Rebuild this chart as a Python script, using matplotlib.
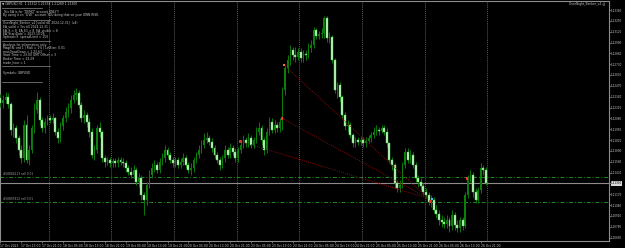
import numpy as np
import matplotlib
matplotlib.use('Agg')
import matplotlib.pyplot as plt

# GBPUSD H1, 17 Oct 2023 05:00 .. 26 Oct 2023 23:00
opens = [
    1.2232, 1.2226, 1.2230, 1.2234, 1.2225, 1.2194, 1.2196, 1.2184, 1.2170, 1.2160,
    1.2200, 1.2158, 1.2170, 1.2196, 1.2218, 1.2230, 1.2206, 1.2196, 1.2204, 1.2208,
    1.2206, 1.2208, 1.2192, 1.2184, 1.2199, 1.2208, 1.2216, 1.2220, 1.2230, 1.2236,
    1.2238, 1.2224, 1.2208, 1.2212, 1.2204, 1.2192, 1.2164, 1.2170, 1.2196, 1.2192,
    1.2160, 1.2156, 1.2158, 1.2154, 1.2157, 1.2154, 1.2158, 1.2156, 1.2154, 1.2148,
    1.2144, 1.2140, 1.2146, 1.2132, 1.2136, 1.2116, 1.2110, 1.2128, 1.2140, 1.2148,
    1.2152, 1.2146, 1.2156, 1.2160, 1.2170, 1.2164, 1.2158, 1.2154, 1.2158, 1.2152,
    1.2156, 1.2160, 1.2152, 1.2146, 1.2148, 1.2158, 1.2164, 1.2170, 1.2176, 1.2182,
    1.2184, 1.2180, 1.2172, 1.2164, 1.2158, 1.2152, 1.2160, 1.2170, 1.2164, 1.2172,
    1.2168, 1.2160, 1.2170, 1.2176, 1.2182, 1.2178, 1.2184, 1.2176, 1.2182, 1.2192,
    1.2196, 1.2182, 1.2170, 1.2192, 1.2204, 1.2194, 1.2200, 1.2196, 1.2204, 1.2242,
    1.2268, 1.2278, 1.2290, 1.2284, 1.2282, 1.2288, 1.2280, 1.2285, 1.2284, 1.2292,
    1.2296, 1.2314, 1.2307, 1.2309, 1.2310, 1.2328, 1.2304, 1.2306, 1.2278, 1.2242,
    1.2248, 1.2234, 1.2212, 1.2199, 1.2200, 1.2188, 1.2178, 1.2182, 1.2180, 1.2182,
    1.2178, 1.2181, 1.2184, 1.2188, 1.2192, 1.2194, 1.2193, 1.2196, 1.2192, 1.2178,
    1.2158, 1.2152, 1.2130, 1.2124, 1.2128, 1.2152, 1.2168, 1.2158, 1.2164, 1.2152,
    1.2136, 1.2132, 1.2127, 1.2120, 1.2116, 1.2108, 1.2110, 1.2098, 1.2093, 1.2086,
    1.2084, 1.2081, 1.2086, 1.2079, 1.2092, 1.2080, 1.2076, 1.2086, 1.2079, 1.2116,
    1.2136, 1.2140, 1.2120, 1.2110, 1.2122, 1.2148, 1.2146,
]
highs = [
    1.2237, 1.2236, 1.2240, 1.2238, 1.2228, 1.2202, 1.2200, 1.2188, 1.2176, 1.2206,
    1.2212, 1.2176, 1.2200, 1.2226, 1.2240, 1.2234, 1.2210, 1.2208, 1.2212, 1.2212,
    1.2214, 1.2210, 1.2196, 1.2204, 1.2212, 1.2222, 1.2226, 1.2236, 1.2242, 1.2244,
    1.2242, 1.2228, 1.2218, 1.2216, 1.2208, 1.2196, 1.2176, 1.2200, 1.2204, 1.2194,
    1.2164, 1.2162, 1.2162, 1.2160, 1.2160, 1.2162, 1.2162, 1.2160, 1.2158, 1.2152,
    1.2150, 1.2152, 1.2150, 1.2142, 1.2140, 1.2120, 1.2132, 1.2146, 1.2154, 1.2158,
    1.2156, 1.2160, 1.2166, 1.2176, 1.2174, 1.2168, 1.2162, 1.2162, 1.2162, 1.2160,
    1.2166, 1.2164, 1.2156, 1.2154, 1.2162, 1.2168, 1.2176, 1.2182, 1.2190, 1.2192,
    1.2188, 1.2184, 1.2176, 1.2168, 1.2162, 1.2164, 1.2176, 1.2174, 1.2178, 1.2176,
    1.2172, 1.2174, 1.2182, 1.2188, 1.2186, 1.2190, 1.2188, 1.2186, 1.2198, 1.2204,
    1.2200, 1.2186, 1.2196, 1.2210, 1.2208, 1.2206, 1.2204, 1.2208, 1.2246, 1.2272,
    1.2284, 1.2296, 1.2294, 1.2294, 1.2292, 1.2292, 1.2290, 1.2290, 1.2298, 1.2302,
    1.2318, 1.2316, 1.2313, 1.2316, 1.2331, 1.2331, 1.2312, 1.2308, 1.2280, 1.2252,
    1.2252, 1.2236, 1.2216, 1.2206, 1.2204, 1.2190, 1.2186, 1.2186, 1.2186, 1.2186,
    1.2186, 1.2188, 1.2192, 1.2198, 1.2200, 1.2198, 1.2200, 1.2200, 1.2196, 1.2180,
    1.2162, 1.2154, 1.2134, 1.2134, 1.2156, 1.2172, 1.2172, 1.2170, 1.2168, 1.2156,
    1.2140, 1.2136, 1.2130, 1.2124, 1.2120, 1.2116, 1.2114, 1.2104, 1.2098, 1.2092,
    1.2090, 1.2092, 1.2090, 1.2098, 1.2096, 1.2086, 1.2090, 1.2090, 1.2120, 1.2140,
    1.2146, 1.2144, 1.2124, 1.2126, 1.2154, 1.2152, 1.2150,
]
lows = [
    1.2222, 1.2220, 1.2226, 1.2220, 1.2188, 1.2186, 1.2178, 1.2164, 1.2154, 1.2156,
    1.2154, 1.2152, 1.2166, 1.2190, 1.2214, 1.2200, 1.2192, 1.2190, 1.2200, 1.2202,
    1.2202, 1.2188, 1.2178, 1.2180, 1.2194, 1.2204, 1.2210, 1.2214, 1.2226, 1.2230,
    1.2220, 1.2204, 1.2202, 1.2198, 1.2186, 1.2160, 1.2158, 1.2166, 1.2186, 1.2156,
    1.2150, 1.2152, 1.2150, 1.2150, 1.2150, 1.2150, 1.2152, 1.2150, 1.2144, 1.2140,
    1.2136, 1.2136, 1.2128, 1.2126, 1.2110, 1.2092, 1.2104, 1.2124, 1.2136, 1.2144,
    1.2142, 1.2142, 1.2152, 1.2156, 1.2160, 1.2154, 1.2150, 1.2150, 1.2148, 1.2148,
    1.2152, 1.2148, 1.2142, 1.2140, 1.2144, 1.2154, 1.2160, 1.2166, 1.2172, 1.2178,
    1.2176, 1.2168, 1.2160, 1.2154, 1.2146, 1.2148, 1.2156, 1.2160, 1.2160, 1.2164,
    1.2156, 1.2156, 1.2166, 1.2172, 1.2174, 1.2174, 1.2172, 1.2172, 1.2178, 1.2188,
    1.2176, 1.2164, 1.2166, 1.2188, 1.2190, 1.2190, 1.2192, 1.2192, 1.2194, 1.2236,
    1.2262, 1.2272, 1.2278, 1.2276, 1.2278, 1.2276, 1.2276, 1.2278, 1.2280, 1.2288,
    1.2292, 1.2303, 1.2303, 1.2304, 1.2304, 1.2300, 1.2298, 1.2274, 1.2238, 1.2232,
    1.2228, 1.2208, 1.2194, 1.2192, 1.2184, 1.2174, 1.2174, 1.2176, 1.2176, 1.2174,
    1.2174, 1.2178, 1.2180, 1.2184, 1.2188, 1.2188, 1.2190, 1.2188, 1.2174, 1.2154,
    1.2146, 1.2124, 1.2120, 1.2120, 1.2124, 1.2148, 1.2154, 1.2154, 1.2148, 1.2132,
    1.2126, 1.2122, 1.2116, 1.2112, 1.2104, 1.2102, 1.2094, 1.2088, 1.2080, 1.2078,
    1.2076, 1.2076, 1.2072, 1.2074, 1.2074, 1.2072, 1.2072, 1.2074, 1.2076, 1.2112,
    1.2132, 1.2114, 1.2106, 1.2106, 1.2118, 1.2140, 1.2128,
]
closes = [
    1.2226, 1.2230, 1.2234, 1.2225, 1.2194, 1.2196, 1.2184, 1.2170, 1.2160, 1.2200,
    1.2158, 1.2170, 1.2196, 1.2218, 1.2230, 1.2206, 1.2196, 1.2204, 1.2208, 1.2206,
    1.2208, 1.2192, 1.2184, 1.2199, 1.2208, 1.2216, 1.2220, 1.2230, 1.2236, 1.2238,
    1.2224, 1.2208, 1.2212, 1.2204, 1.2192, 1.2164, 1.2170, 1.2196, 1.2192, 1.2160,
    1.2156, 1.2158, 1.2154, 1.2157, 1.2154, 1.2158, 1.2156, 1.2154, 1.2148, 1.2144,
    1.2140, 1.2146, 1.2132, 1.2136, 1.2116, 1.2110, 1.2128, 1.2140, 1.2148, 1.2152,
    1.2146, 1.2156, 1.2160, 1.2170, 1.2164, 1.2158, 1.2154, 1.2158, 1.2152, 1.2156,
    1.2160, 1.2152, 1.2146, 1.2148, 1.2158, 1.2164, 1.2170, 1.2176, 1.2182, 1.2184,
    1.2180, 1.2172, 1.2164, 1.2158, 1.2152, 1.2160, 1.2170, 1.2164, 1.2172, 1.2168,
    1.2160, 1.2170, 1.2176, 1.2182, 1.2178, 1.2184, 1.2176, 1.2182, 1.2192, 1.2196,
    1.2182, 1.2170, 1.2192, 1.2204, 1.2194, 1.2200, 1.2196, 1.2204, 1.2242, 1.2268,
    1.2278, 1.2290, 1.2284, 1.2282, 1.2288, 1.2280, 1.2285, 1.2284, 1.2292, 1.2296,
    1.2314, 1.2307, 1.2309, 1.2310, 1.2328, 1.2304, 1.2306, 1.2278, 1.2242, 1.2248,
    1.2234, 1.2212, 1.2199, 1.2200, 1.2188, 1.2178, 1.2182, 1.2180, 1.2182, 1.2178,
    1.2181, 1.2184, 1.2188, 1.2192, 1.2194, 1.2193, 1.2196, 1.2192, 1.2178, 1.2158,
    1.2152, 1.2130, 1.2124, 1.2128, 1.2152, 1.2168, 1.2158, 1.2164, 1.2152, 1.2136,
    1.2132, 1.2127, 1.2120, 1.2116, 1.2108, 1.2110, 1.2098, 1.2093, 1.2086, 1.2084,
    1.2081, 1.2086, 1.2079, 1.2092, 1.2080, 1.2076, 1.2086, 1.2079, 1.2116, 1.2136,
    1.2140, 1.2120, 1.2110, 1.2122, 1.2148, 1.2146, 1.2130,
]

time_labels = [
    '17 Oct 2023', '17 Oct 13:00', '17 Oct 21:00', '18 Oct 05:00', '18 Oct 13:00',
    '18 Oct 21:00', '19 Oct 05:00', '19 Oct 13:00', '19 Oct 21:00', '20 Oct 05:00',
    '20 Oct 13:00', '20 Oct 21:00', '23 Oct 05:00', '23 Oct 13:00', '23 Oct 21:00',
    '24 Oct 05:00', '24 Oct 13:00', '24 Oct 21:00', '25 Oct 05:00', '25 Oct 13:00',
    '25 Oct 21:00', '26 Oct 05:00', '26 Oct 13:00', '26 Oct 21:00',
]
time_label_bars = [0, 8, 16, 24, 32, 40, 48, 56, 64, 72, 80, 88, 96, 104, 112,
                   120, 128, 136, 144, 152, 160, 168, 176, 184]
day_start_bars = [19, 43, 67, 91, 115, 139, 163, 187]

price_ticks = [1.23380, 1.23250, 1.23120, 1.22990, 1.22860, 1.22730, 1.22600,
               1.22470, 1.22340, 1.22210, 1.22080, 1.21950, 1.21820, 1.21690,
               1.21560, 1.21430, 1.21300, 1.21170, 1.21040, 1.20910, 1.20780,
               1.20650]
bid_price = 1.21300

# open sell orders
order_prices = [1.2138, 1.2108]
order_labels = ['#58884213 sell 0.01', '#58897812 sell 0.01']

# trade history lines (open -> close) and arrows
trade_open_bars = [108.6, 107.9, 92.0]
trade_open_prices = [1.2272, 1.2208, 1.2180]
trade_close_bar = 163.8
trade_close_price = 1.2112
arrow_bars = [108.6, 107.9, 92.0, 165.3, 164.5, 178.7]
arrow_prices = [1.2272, 1.2208, 1.2180, 1.2111, 1.2108, 1.2136]
arrow_colors = ['#ff7040', '#ff3030', '#c04020', '#40c8ff', '#ff3030', '#ff3030']

info_lines = [
    (11.7, 'This EA is for "DEMO" account ONLY!!'),
    (15.2, 'By using it on "LIVE" account YOU doing that on your OWN RISK.'),
    (23.4, 'OverNight_Banker_v4 [valid till: 2024.12.31]  (v4)'),
    (26.8, 'EA_valid = Yes till 2024.12.31'),
    (30.2, 'EA_S = 8  EA_E1 = 8  EA_visible = 8'),
    (33.6, 'EA_StartDate = 2023.10.26'),
    (37.0, 'Spread=9  spreadLimit = 150'),
    (45.0, 'Analysis for information only:'),
    (48.4, 'MagicN: ord 1 | Risk = 1% | LotSize: 0.01'),
    (51.8, 'maxDrawDown = 1.23.63'),
    (55.2, 'Start Time = 23:00 GMT Offset = 3'),
    (58.6, 'Broker Time = 23:29'),
    (62.0, 'trade_hour = 1'),
    (72.7, 'Symbols: GBPUSD'),
]
separators = [(7.5, 42), (20.0, 50), (40.7, 50), (66.0, 50), (81.7, 42)]

W, H = 625, 248
px_per_bar = 2.611
y_top, y_bot = 1.23488, 1.20608

fig = plt.figure(figsize=(W / 100, H / 100), dpi=100, facecolor='black')
ax = fig.add_axes([0, 7 / H, 609 / W, 240 / H], facecolor='black')

x = np.arange(len(closes))
o = np.array(opens)
c = np.array(closes)
h = np.array(highs)
l = np.array(lows)
up = c >= o

# grid: day separators
for b in day_start_bars:
    ax.axvline(b - 0.5, color='#5a5a5a', linestyle=(0, (1, 1)), linewidth=0.7, zorder=1)

# candles
ax.vlines(x, l, h, color='#0a780a', linewidth=0.7, zorder=3)
ax.bar(x[up], (c - o)[up], bottom=o[up], width=0.55, color='#0a800a',
       linewidth=0, zorder=4)
ax.bar(x[~up], (c - o)[~up], bottom=o[~up], width=0.75, color='#d0f8d0',
       edgecolor='#44c444', linewidth=0.35, zorder=4)

# order lines
for p, lab in zip(order_prices, order_labels):
    ax.axhline(p, color='#1f8a1f', linestyle=(0, (4, 2, 1, 2)), linewidth=0.7, zorder=2)
    ax.text(1.0, p + 0.00012, lab, color='#a0a0a0', fontsize=2.1, va='bottom',
            ha='left', zorder=6)

# bid line
ax.axhline(bid_price, color='#8c8c8c', linewidth=0.8, zorder=2)

# trade history
for b0, p0 in zip(trade_open_bars, trade_open_prices):
    ax.plot([b0, trade_close_bar], [p0, trade_close_price], color='#8a0a0a',
            linestyle=(0, (1, 1.2)), linewidth=0.7, zorder=5)
ax.scatter(arrow_bars, arrow_prices, s=3, marker='s', c=arrow_colors,
           linewidths=0, zorder=7)

ax.set_xlim(-0.4 / px_per_bar, (609 - 0.4) / px_per_bar)
ax.set_ylim(y_bot, y_top)

for s in ax.spines.values():
    s.set_color('#8c8c8c')
    s.set_linewidth(0.8)

ax.yaxis.tick_right()
ax.set_yticks(price_ticks)
ax.set_yticklabels([f'{p:.5f}' for p in price_ticks])
ax.tick_params(axis='y', colors='#8c8c8c', labelcolor='#c8c8c8', labelsize=1.95,
               length=1.2, width=0.5, pad=0.4)
ax.set_xticks(time_label_bars)
ax.set_xticklabels(time_labels, ha='left')
ax.tick_params(axis='x', colors='#8c8c8c', labelcolor='#c8c8c8', labelsize=2.2,
               length=1.5, width=0.5, pad=0.6)

# highlighted bid price on the scale
ax.text(1.003, bid_price, f'{bid_price:.5f}', transform=ax.get_yaxis_transform(),
        fontsize=1.95, color='black', va='center', ha='left',
        bbox=dict(boxstyle='square,pad=0.12', facecolor='#d8d8d8', edgecolor='none'),
        zorder=10, clip_on=False)

# top-left info panel
fig.text(2 / W, 1 - 3.4 / H, '\u25bc GBPUSD,H1  1.21312 1.21358 1.21289 1.21300',
         color='#c8c8c8', fontsize=2.2, va='center', ha='left')
for yy, t in info_lines:
    fig.text(3 / W, 1 - yy / H, t, color='#c8c8c8', fontsize=2.2, va='center', ha='left')
for yy, xr in separators:
    fig.add_artist(plt.Line2D([2 / W, xr / W], [1 - yy / H, 1 - yy / H],
                              color='#8c8c8c', linewidth=0.5))

# EA name top-right
fig.text(605 / W, 1 - 3.6 / H, 'OverNight_Banker_v4 \u263a', color='#c8c8c8',
         fontsize=2.2, va='center', ha='right')

fig.savefig('out.png', dpi=100, facecolor='black')
